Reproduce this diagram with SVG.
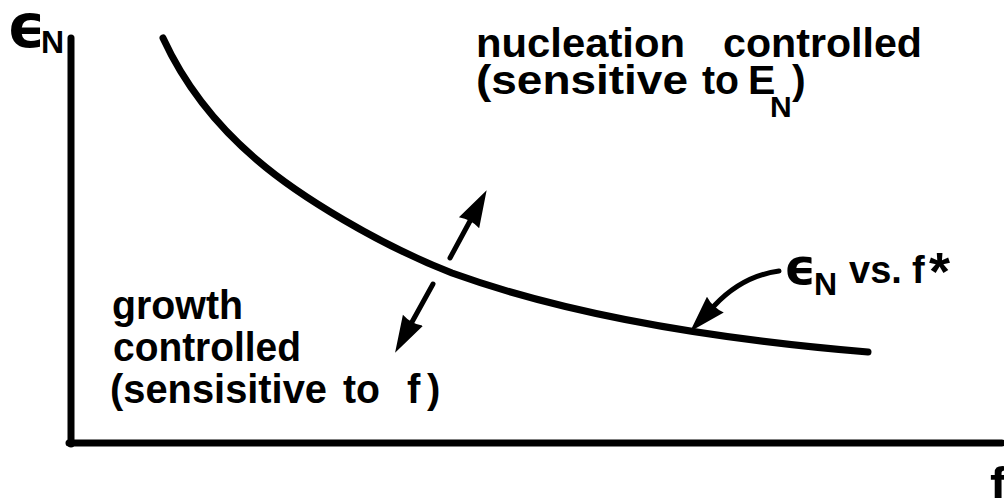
<svg xmlns="http://www.w3.org/2000/svg" width="1004" height="498" viewBox="0 0 1004 498">
<style>
.ink{fill:none;stroke:#000;stroke-linecap:round;stroke-linejoin:round}
.t{font-family:"Liberation Sans",Arial,sans-serif;font-weight:bold;fill:#000}
.eps{font-family:"DejaVu Sans",sans-serif;font-weight:bold;fill:#000}
</style>
<defs>
<marker id="head" markerUnits="userSpaceOnUse" markerWidth="38" markerHeight="26" viewBox="0 0 38 26" refX="2" refY="13" orient="auto">
<path d="M0,1.5 L37,13 L0,24.5 Q4,13 0,1.5 Z" fill="#000"/>
</marker>
</defs>
<rect width="1004" height="498" fill="#fff"/>
<g id="axes">
<line class="ink" x1="71" y1="38" x2="71" y2="444" stroke-width="7"/>
<line class="ink" x1="69" y1="443" x2="1002" y2="443" stroke-width="7"/>
</g>
<g id="axis-labels">
<text class="eps" x="7" y="47" font-size="60">ϵ</text>
<text class="t" x="41" y="53" font-size="32">N</text>
<text class="t" x="990" y="502" font-size="50">f</text>
</g>
<g id="curve">
<path class="ink" stroke-width="7" d="M163,38 C180,75 210,120 257,160 C300,197 380,245 452,273 C560,312 700,338 868,352"/>
</g>
<g id="connectors">
<path class="ink" stroke-width="5" d="M450,258 L470,221" marker-end="url(#head)"/>
<path class="ink" stroke-width="5" d="M433,284 L412,322" marker-end="url(#head)"/>
<path class="ink" stroke-width="5" d="M779,271 Q742,276 714,306" marker-end="url(#head)"/>
</g>
<g id="label-nucleation">
<text class="t" y="57" font-size="41"><tspan x="476" textLength="209" lengthAdjust="spacingAndGlyphs">nucleation</tspan><tspan x="723" textLength="199" lengthAdjust="spacingAndGlyphs">controlled</tspan></text>
<text class="t" y="94" font-size="41"><tspan x="476" textLength="212" lengthAdjust="spacingAndGlyphs">(sensitive</tspan><tspan x="702" textLength="37" lengthAdjust="spacingAndGlyphs">to</tspan><tspan x="748">E</tspan><tspan x="770" y="117" font-size="30">N</tspan><tspan x="792" y="94">)</tspan></text>
</g>
<g id="label-growth">
<text class="t" x="112" y="319" font-size="40" textLength="131" lengthAdjust="spacingAndGlyphs">growth</text>
<text class="t" x="113" y="361" font-size="40" textLength="188" lengthAdjust="spacingAndGlyphs">controlled</text>
<text class="t" y="403" font-size="40"><tspan x="110" textLength="217" lengthAdjust="spacingAndGlyphs">(sensisitive</tspan><tspan x="343" textLength="37" lengthAdjust="spacingAndGlyphs">to</tspan><tspan x="407">f</tspan><tspan x="427">)</tspan></text>
</g>
<g id="label-curve">
<text class="eps" x="784" y="284" font-size="50">ϵ</text>
<text class="t" x="814" y="295" font-size="32">N</text>
<text class="t" x="849" y="283" font-size="38">vs.</text>
<text class="t" x="912" y="283" font-size="38">f</text>
<text class="t" x="929" y="290" font-size="54">*</text>
</g>
</svg>
